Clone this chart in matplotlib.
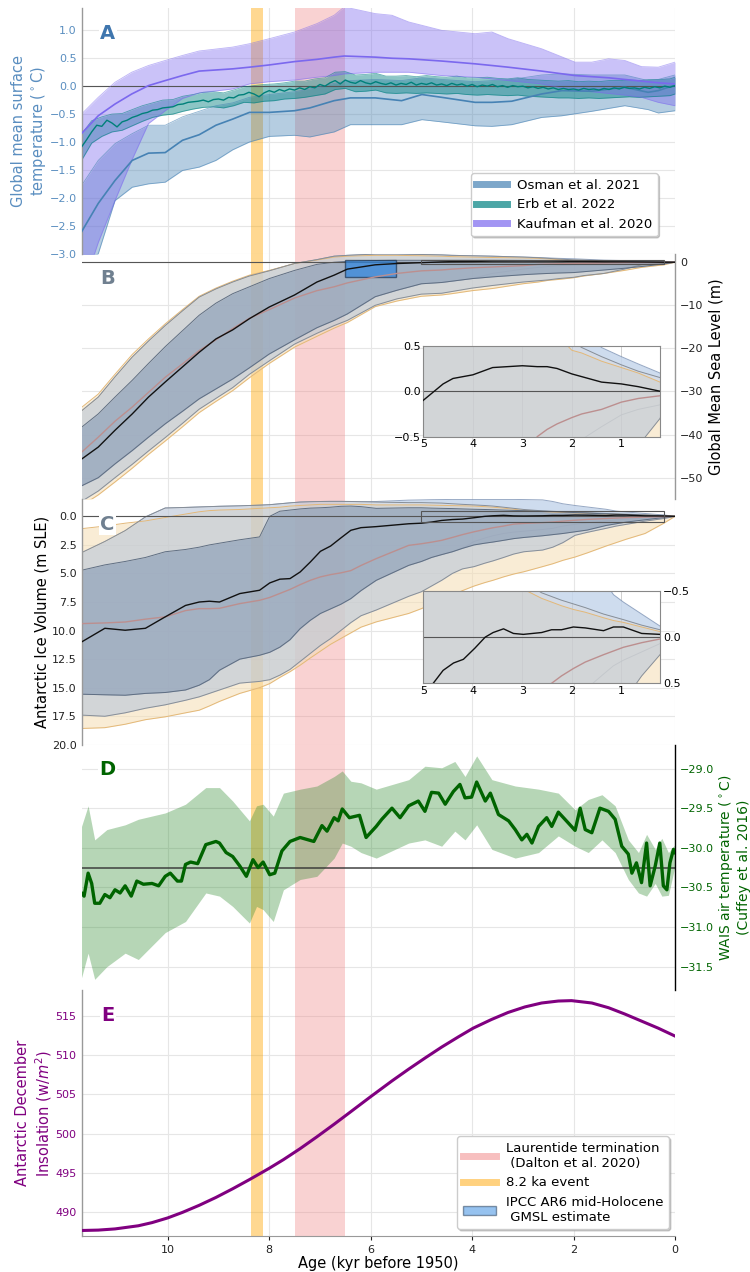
import matplotlib
matplotlib.use("Agg")
import numpy as np
import matplotlib.pyplot as plt
from matplotlib.patches import Rectangle, Patch
from matplotlib.lines import Line2D

plt.rcParams['font.family'] = ['DejaVu Sans']

# ---------------- A: global mean surface temperature ----------------
x_osman = [11.7, 11.37, 11.04, 10.7, 10.38, 10.05, 9.71, 9.38, 9.05, 8.72,
           8.39, 8.0, 7.5, 7.2, 6.72, 6.4, 5.91, 5.39, 4.99, 4.6,
           3.94, 3.61, 3.22, 2.63, 2.23, 1.64, 0.99, 0.53, 0.33, 0.0]
osman_med = [-2.61, -2.10, -1.69, -1.33, -1.20, -1.19, -0.97, -0.87, -0.70, -0.59,
             -0.47, -0.47, -0.44, -0.39, -0.26, -0.21, -0.21, -0.26, -0.15, -0.20,
             -0.29, -0.29, -0.27, -0.14, -0.08, -0.09, -0.02, -0.11, -0.08, 0.02]
osman_lo = [-3.30, -3.00, -2.05, -1.81, -1.75, -1.72, -1.51, -1.45, -1.33, -1.14,
            -1.00, -0.90, -0.88, -0.91, -0.82, -0.69, -0.69, -0.69, -0.60, -0.64,
            -0.71, -0.72, -0.69, -0.56, -0.53, -0.45, -0.35, -0.42, -0.48, -0.44]
osman_hi = [-1.78, -1.33, -1.03, -0.85, -0.70, -0.70, -0.55, -0.45, -0.35, -0.30,
            -0.20, -0.15, -0.10, -0.05, 0.05, 0.10, 0.12, 0.10, 0.15, 0.12,
            0.08, 0.10, 0.12, 0.20, 0.22, 0.20, 0.20, 0.10, 0.12, 0.20]

x_kauf = [11.7, 11.37, 11.04, 10.71, 10.38, 10.05, 9.71, 9.38, 8.72, 8.39,
          8.0, 7.5, 7.06, 6.72, 6.52, 5.91, 5.58, 5.25, 4.6, 3.94,
          3.61, 3.29, 2.63, 1.97, 1.64, 1.31, 0.99, 0.66, 0.33, 0.0]
kauf_med = [-0.85, -0.53, -0.32, -0.14, 0.01, 0.10, 0.19, 0.27, 0.31, 0.34,
            0.38, 0.44, 0.48, 0.52, 0.54, 0.52, 0.50, 0.49, 0.45, 0.40,
            0.37, 0.34, 0.27, 0.19, 0.17, 0.15, 0.12, 0.09, 0.06, 0.04]
kauf_lo = [-3.70, -2.80, -2.05, -1.33, -0.67, -0.44, -0.22, -0.12, -0.05, 0.04,
           0.08, 0.11, 0.16, 0.19, 0.22, 0.25, 0.25, 0.25, 0.19, 0.16,
           0.13, 0.10, 0.04, -0.08, -0.10, -0.13, -0.16, -0.20, -0.29, -0.35]
kauf_hi = [-0.50, -0.20, 0.07, 0.25, 0.37, 0.46, 0.55, 0.63, 0.70, 0.76,
           0.85, 0.97, 1.12, 1.27, 1.42, 1.30, 1.27, 1.15, 1.00, 0.94,
           0.97, 0.85, 0.67, 0.43, 0.43, 0.49, 0.46, 0.35, 0.34, 0.43]

x_erb = [11.7, 11.6, 11.5, 11.4, 11.3, 11.2, 11.1, 11.0, 10.9, 10.8,
         10.7, 10.6, 10.5, 10.4, 10.3, 10.2, 10.1, 10.0, 9.9, 9.8,
         9.7, 9.6, 9.5, 9.4, 9.3, 9.2, 9.1, 9.0, 8.9, 8.8,
         8.7, 8.6, 8.5, 8.4, 8.3, 8.2, 8.1, 8.0, 7.9, 7.8,
         7.7, 7.6, 7.5, 7.4, 7.3, 7.2, 7.1, 7.0, 6.9, 6.8,
         6.7, 6.6, 6.5, 6.4, 6.3, 6.2, 6.1, 6.0, 5.9, 5.8,
         5.7, 5.6, 5.5, 5.4, 5.3, 5.2, 5.1, 5.0, 4.9, 4.8,
         4.7, 4.6, 4.5, 4.4, 4.3, 4.2, 4.1, 4.0, 3.9, 3.8,
         3.7, 3.6, 3.5, 3.4, 3.3, 3.2, 3.1, 3.0, 2.9, 2.8,
         2.7, 2.6, 2.5, 2.4, 2.3, 2.2, 2.1, 2.0, 1.9, 1.8,
         1.7, 1.6, 1.5, 1.4, 1.3, 1.2, 1.1, 1.0, 0.9, 0.8,
         0.7, 0.6, 0.5, 0.4, 0.3, 0.2, 0.1, 0.0]
erb_med = [-1.09, -0.96, -0.82, -0.70, -0.72, -0.61, -0.66, -0.73, -0.64, -0.61,
           -0.56, -0.53, -0.49, -0.47, -0.43, -0.42, -0.39, -0.38, -0.37, -0.33,
           -0.32, -0.29, -0.28, -0.27, -0.25, -0.28, -0.24, -0.23, -0.25, -0.20,
           -0.21, -0.16, -0.15, -0.11, -0.14, -0.19, -0.12, -0.08, -0.11, -0.06,
           -0.09, -0.05, -0.07, -0.03, -0.06, -0.01, -0.03, 0.03, 0.00, 0.06,
           0.10, 0.04, 0.11, 0.07, 0.05, 0.10, 0.06, 0.04, 0.08, 0.05,
           0.03, 0.06, 0.02, 0.05, 0.03, 0.07, 0.02, 0.05, 0.03, 0.06,
           0.02, 0.04, 0.01, 0.05, 0.02, 0.04, 0.00, 0.03, -0.01, 0.02,
           0.00, 0.03, -0.01, 0.01, -0.02, 0.01, -0.01, 0.00, -0.03, -0.01,
           -0.04, -0.02, -0.05, -0.03, -0.06, -0.04, -0.06, -0.05, -0.07, -0.04,
           -0.06, -0.05, -0.07, -0.04, -0.06, -0.03, -0.05, -0.02, -0.04, -0.03,
           -0.05, -0.02, -0.04, -0.01, -0.03, 0.00, -0.02, 0.01]
x_erb_band = [11.7, 11.5, 11.3, 11.1, 10.9, 10.7, 10.5, 10.3, 10.1, 9.9,
              9.7, 9.5, 9.3, 9.1, 8.9, 8.7, 8.5, 8.3, 8.1, 7.9,
              7.7, 7.5, 7.3, 7.1, 6.9, 6.7, 6.5, 6.3, 6.1, 5.9,
              5.7, 5.5, 5.3, 5.1, 4.9, 4.7, 4.5, 4.3, 4.1, 3.9,
              3.7, 3.5, 3.3, 3.1, 2.9, 2.7, 2.5, 2.3, 2.1, 1.9,
              1.7, 1.5, 1.3, 1.1, 0.9, 0.7, 0.5, 0.3, 0.1, 0.0]
erb_hi = [-0.86, -0.62, -0.55, -0.50, -0.49, -0.42, -0.35, -0.30, -0.25, -0.24,
          -0.18, -0.15, -0.11, -0.10, -0.12, -0.07, -0.01, 0.01, 0.03, 0.04,
          0.06, 0.09, 0.09, 0.13, 0.15, 0.25, 0.26, 0.20, 0.21, 0.23,
          0.18, 0.18, 0.19, 0.17, 0.19, 0.17, 0.16, 0.18, 0.15, 0.15,
          0.16, 0.14, 0.13, 0.15, 0.12, 0.11, 0.10, 0.09, 0.10, 0.08,
          0.09, 0.08, 0.10, 0.10, 0.11, 0.10, 0.12, 0.12, 0.13, 0.16]
erb_lo = [-1.33, -1.02, -0.90, -0.82, -0.79, -0.71, -0.63, -0.56, -0.52, -0.50,
          -0.45, -0.41, -0.38, -0.37, -0.39, -0.35, -0.29, -0.30, -0.27, -0.26,
          -0.23, -0.22, -0.20, -0.17, -0.14, -0.06, -0.04, -0.10, -0.09, -0.07,
          -0.12, -0.13, -0.12, -0.13, -0.12, -0.13, -0.14, -0.13, -0.15, -0.16,
          -0.15, -0.16, -0.17, -0.16, -0.18, -0.19, -0.20, -0.21, -0.21, -0.22,
          -0.21, -0.22, -0.21, -0.20, -0.19, -0.20, -0.19, -0.18, -0.17, -0.14]

# ---------------- B: global mean sea level (m) ----------------
x_b = [11.7, 11.37, 11.04, 10.7, 10.38, 10.05, 9.71, 9.38, 9.05, 8.72,
       8.39, 8.0, 7.5, 7.06, 6.72, 6.46, 5.91, 5.48, 5.0, 4.6,
       4.4, 4.0, 3.6, 3.0, 2.7, 2.5, 2.3, 2.0, 1.8, 1.4,
       1.0, 0.66, 0.22, 0.0]
gmsl_main = [-45.7, -42.9, -39.0, -35.2, -31.3, -27.8, -24.3, -20.9, -17.8, -15.7,
             -13.1, -10.4, -7.6, -4.6, -3.0, -1.6, -0.6, -0.3, -0.1, 0.08,
             0.14, 0.18, 0.26, 0.28, 0.27, 0.27, 0.25, 0.19, 0.16, 0.10,
             0.08, 0.05, 0.0, 0.0]
gmsl_alt = [-44.1, -40.6, -36.9, -33.6, -30.2, -26.7, -23.6, -20.5, -18.0, -15.4,
            -13.0, -11.0, -8.3, -6.6, -5.7, -4.8, -3.4, -2.6, -2.0, -1.8,
            -1.6, -1.3, -1.1, -0.8, -0.5, -0.42, -0.36, -0.29, -0.25, -0.2,
            -0.12, -0.08, -0.05, 0.0]
gmsl_1s_hi = [-38.3, -35.2, -31.3, -27.4, -23.5, -19.6, -15.9, -12.3, -9.5, -7.3,
              -5.7, -3.8, -1.9, -0.5, 0.0, 0.2, 0.4, 0.45, 0.45, 0.45,
              0.45, 0.45, 0.45, 0.42, 0.4, 0.38, 0.36, 0.33, 0.3, 0.25,
              0.2, 0.14, 0.06, 0.0]
gmsl_1s_lo = [-51.9, -50.0, -46.8, -43.7, -40.6, -37.5, -34.6, -31.7, -29.4, -27.1,
              -24.5, -21.3, -18.0, -15.2, -13.5, -12.0, -8.0, -6.5, -5.0, -4.7,
              -4.4, -3.8, -3.4, -2.9, -2.7, -2.6, -2.5, -2.4, -2.2, -1.8,
              -1.4, -1.0, -0.4, 0.0]
gmsl_2s_hi = [-34.5, -31.3, -26.6, -22.0, -18.3, -14.7, -11.3, -8.1, -6.2, -4.6,
              -3.2, -2.0, -0.3, 0.6, 1.4, 1.6, 1.9, 1.9, 1.8, 1.7,
              1.6, 1.5, 1.4, 1.2, 1.05, 0.9, 0.75, 0.55, 0.48, 0.38,
              0.29, 0.22, 0.15, 0.0]
gmsl_2s_lo = [-55.5, -53.1, -50.0, -46.9, -43.8, -40.7, -37.4, -34.1, -31.6, -29.1,
              -26.0, -22.9, -19.0, -16.5, -14.7, -13.5, -10.0, -8.5, -7.4, -7.2,
              -6.8, -6.0, -5.4, -4.6, -4.3, -4.1, -3.8, -3.5, -3.1, -2.6,
              -1.6, -0.6, -0.3, 0.0]
gmsl_alt_1s_hi = [-34.5, -31.3, -26.6, -22.0, -18.3, -14.7, -11.3, -8.1, -6.2, -4.6,
                  -3.2, -2.0, -0.3, 0.6, 1.4, 1.6, 1.9, 1.9, 1.8, 1.7,
                  1.6, 1.5, 1.4, 1.2, 1.1, 1.0, 0.9, 0.8, 0.7, 0.48,
                  0.38, 0.3, 0.2, 0.0]
gmsl_alt_1s_lo = [-51.9, -50.0, -46.8, -43.7, -40.6, -37.5, -34.6, -31.7, -29.4, -27.1,
                  -24.5, -21.3, -18.0, -15.2, -13.5, -12.0, -8.0, -6.5, -5.0, -4.7,
                  -4.4, -3.8, -2.6, -1.6, -1.2, -1.0, -0.82, -0.62, -0.53, -0.39,
                  -0.26, -0.2, -0.15, 0.0]
gmsl_alt_2s_hi = [-33.7, -30.6, -26.0, -21.4, -17.8, -14.3, -11.0, -7.9, -6.0, -4.4,
                  -3.0, -1.9, -0.3, 0.5, 1.2, 1.4, 1.6, 1.6, 1.5, 1.4,
                  1.3, 1.2, 1.1, 1.0, 0.9, 0.75, 0.62, 0.45, 0.42, 0.33,
                  0.26, 0.2, 0.1, 0.0]
gmsl_alt_2s_lo = [-56.5, -54.0, -51.0, -47.8, -44.6, -41.5, -38.2, -34.9, -32.3, -29.8,
                  -26.8, -23.5, -19.7, -17.2, -15.3, -14.0, -10.3, -9.0, -7.9, -7.6,
                  -7.3, -6.6, -6.1, -5.0, -4.6, -4.2, -4.0, -3.6, -3.2, -2.6,
                  -1.9, -1.2, -0.6, 0.0]
ipcc_age = (6.5, 5.5)
ipcc_gmsl = (-3.5, 0.5)

# ---------------- C: Antarctic ice volume (m SLE) ----------------
x_c = [11.7, 11.24, 10.84, 10.44, 10.05, 9.65, 9.38, 9.18, 8.98, 8.58,
       8.19, 7.99, 7.79, 7.59, 7.39, 7.19, 6.99, 6.79, 6.59, 6.39,
       6.19, 5.89, 5.25, 5.0, 4.8, 4.6, 4.39, 4.19, 3.96, 3.75,
       3.59, 3.38, 3.18, 2.98, 2.61, 2.41, 2.21, 1.97, 1.73, 1.36,
       1.16, 0.96, 0.59, 0.22, 0.0]
ice_main = [11.0, 9.8, 9.97, 9.8, 8.8, 7.8, 7.5, 7.43, 7.5, 6.76,
            6.47, 5.83, 5.5, 5.45, 4.87, 4.0, 3.06, 2.6, 1.9, 1.22,
            0.99, 0.9, 0.65, 0.6, 0.5, 0.36, 0.28, 0.24, 0.12, 0.0,
            -0.05, -0.09, -0.04, -0.03, -0.05, -0.08, -0.08, -0.11, -0.1, -0.07,
            -0.11, -0.11, -0.04, -0.03, 0.0]
ice_alt = [9.39, 9.33, 9.25, 9.0, 8.8, 8.25, 8.08, 8.08, 8.05, 7.64,
           7.35, 7.1, 6.75, 6.4, 5.98, 5.6, 5.3, 5.1, 4.95, 4.75,
           4.3, 3.7, 2.54, 2.4, 2.26, 2.1, 1.85, 1.6, 1.35, 1.15,
           1.0, 0.85, 0.68, 0.62, 0.55, 0.5, 0.42, 0.34, 0.27, 0.19,
           0.15, 0.11, 0.06, 0.02, 0.0]
ice_1s_hi = [4.72, 4.25, 3.95, 3.6, 3.1, 2.9, 2.7, 2.5, 2.35, 2.05,
             1.8, 0.0, -0.45, -0.55, -0.65, -0.72, -0.75, -0.8, -0.88, -0.9,
             -0.85, -0.7, -0.75, -0.75, -0.72, -0.7, -0.68, -0.65, -0.62, -0.6,
             -0.58, -0.55, -0.52, -0.5, -0.45, -0.42, -0.38, -0.33, -0.28, -0.22,
             -0.18, -0.15, -0.1, -0.04, 0.0]
ice_1s_lo = [15.57, 15.62, 15.66, 15.5, 15.42, 15.2, 14.78, 14.3, 13.47, 12.5,
             12.16, 11.9, 11.45, 10.8, 9.83, 9.1, 8.5, 8.1, 7.7, 7.2,
             6.5, 5.6, 4.29, 3.95, 3.6, 3.35, 3.1, 2.8, 2.5, 2.35,
             2.25, 2.1, 1.95, 1.85, 1.7, 1.6, 1.5, 1.35, 1.2, 0.8,
             0.65, 0.5, 0.3, 0.1, 0.0]
ice_2s_hi = [3.18, 2.2, 1.25, 0.05, -0.73, -0.78, -0.82, -0.85, -0.88, -0.92,
             -0.98, -1.02, -1.1, -1.18, -1.25, -1.28, -1.3, -1.31, -1.31, -1.3,
             -1.28, -1.25, -1.2, -1.2, -1.18, -1.16, -1.1, -1.05, -1.0, -0.95,
             -0.9, -0.8, -0.7, -0.6, -0.48, -0.44, -0.4, -0.36, -0.32, -0.25,
             -0.22, -0.19, -0.13, -0.08, 0.0]
ice_2s_lo = [17.4, 17.5, 17.2, 16.8, 16.5, 16.1, 15.8, 15.5, 15.2, 14.6,
             14.45, 14.3, 13.9, 13.4, 12.7, 12.0, 11.3, 10.7, 10.0, 9.3,
             8.7, 8.2, 7.0, 6.6, 6.1, 5.6, 5.0, 4.6, 4.4, 4.1,
             3.9, 3.6, 3.3, 3.1, 2.95, 2.7, 2.3, 1.66, 1.4, 1.05,
             0.85, 0.7, 0.42, 0.19, 0.0]
ice_alt_1s_hi = [3.18, 2.2, 1.25, 0.05, -0.73, -0.78, -0.82, -0.85, -0.88, -0.92,
                 -0.98, -1.02, -1.1, -1.18, -1.25, -1.28, -1.3, -1.31, -1.31, -1.3,
                 -1.28, -1.3, -1.42, -1.44, -1.46, -1.47, -1.48, -1.48, -1.48, -1.48,
                 -1.48, -1.48, -1.48, -1.47, -1.44, -1.3, -1.1, -0.95, -0.82, -0.62,
                 -0.46, -0.38, -0.25, -0.12, 0.0]
ice_alt_1s_lo = [15.57, 15.62, 15.66, 15.5, 15.42, 15.2, 14.78, 14.3, 13.47, 12.5,
                 12.16, 11.9, 11.45, 10.8, 9.83, 9.1, 8.5, 8.1, 7.7, 7.2,
                 6.5, 5.6, 4.29, 3.95, 3.6, 3.35, 3.1, 2.8, 2.2, 1.9,
                 1.7, 1.5, 1.38, 1.3, 1.15, 1.05, 0.85, 0.7, 0.57, 0.4,
                 0.31, 0.25, 0.16, 0.07, 0.0]
ice_alt_2s_hi = [1.08, 0.85, 0.6, 0.4, 0.1, -0.2, -0.4, -0.5, -0.55, -0.6,
                 -0.7, -0.75, -0.8, -0.9, -0.95, -1.0, -1.05, -1.05, -1.05, -1.05,
                 -1.05, -1.0, -1.0, -1.0, -0.98, -0.96, -0.94, -0.92, -0.9, -0.85,
                 -0.8, -0.72, -0.62, -0.52, -0.42, -0.38, -0.34, -0.3, -0.27, -0.21,
                 -0.18, -0.16, -0.11, -0.06, 0.0]
ice_alt_2s_lo = [18.57, 18.5, 18.2, 17.8, 17.55, 17.2, 16.97, 16.6, 16.2, 15.5,
                 15.0, 14.64, 14.1, 13.6, 13.03, 12.4, 11.8, 11.2, 10.7, 10.2,
                 9.7, 9.24, 8.5, 8.08, 7.7, 7.3, 6.9, 6.5, 6.1, 5.8,
                 5.6, 5.3, 5.05, 4.85, 4.4, 4.15, 3.85, 3.56, 3.2, 2.6,
                 2.3, 2.0, 1.5, 0.6, 0.0]

# ---------------- D: WAIS air temperature (Cuffey et al. 2016) ----------------
x_wais = [11.7, 11.65, 11.57, 11.5, 11.44, 11.34, 11.24, 11.14, 11.04, 10.94,
          10.84, 10.72, 10.61, 10.48, 10.31, 10.18, 10.05, 9.95, 9.81, 9.73,
          9.65, 9.55, 9.41, 9.25, 9.05, 8.98, 8.85, 8.72, 8.58, 8.45,
          8.32, 8.22, 8.12, 7.99, 7.89, 7.75, 7.59, 7.39, 7.12, 6.96,
          6.86, 6.72, 6.64, 6.56, 6.42, 6.22, 6.09, 5.89, 5.78, 5.58,
          5.42, 5.25, 5.06, 4.93, 4.8, 4.66, 4.53, 4.37, 4.24, 4.14,
          4.01, 3.91, 3.74, 3.64, 3.48, 3.28, 3.15, 3.02, 2.92, 2.82,
          2.69, 2.53, 2.43, 2.3, 2.17, 1.97, 1.87, 1.77, 1.64, 1.48,
          1.31, 1.18, 1.05, 0.92, 0.85, 0.76, 0.66, 0.56, 0.49, 0.39,
          0.3, 0.23, 0.16, 0.1, 0.03, 0.0]
wais_t = [-30.57, -30.61, -30.32, -30.45, -30.70, -30.70, -30.59, -30.63, -30.53, -30.57,
          -30.48, -30.61, -30.42, -30.46, -30.45, -30.48, -30.36, -30.32, -30.42, -30.42,
          -30.21, -30.18, -30.20, -29.96, -29.92, -29.94, -30.06, -30.11, -30.23, -30.36,
          -30.15, -30.25, -30.18, -30.34, -30.32, -30.04, -29.92, -29.87, -29.92, -29.72,
          -29.79, -29.62, -29.66, -29.51, -29.62, -29.59, -29.87, -29.73, -29.64, -29.50,
          -29.62, -29.47, -29.41, -29.54, -29.30, -29.31, -29.45, -29.29, -29.20, -29.37,
          -29.36, -29.17, -29.41, -29.31, -29.58, -29.66, -29.77, -29.90, -29.83, -29.94,
          -29.73, -29.62, -29.73, -29.55, -29.64, -29.78, -29.50, -29.77, -29.81, -29.50,
          -29.54, -29.64, -29.98, -30.08, -30.32, -30.19, -30.44, -29.94, -30.48, -30.23,
          -29.94, -30.48, -30.53, -30.19, -30.02, -30.06]
x_wais_band = [11.7, 11.57, 11.44, 11.2, 10.84, 10.58, 10.05, 9.65, 9.25, 8.98,
               8.72, 8.39, 8.25, 8.12, 7.92, 7.72, 7.39, 7.06, 6.72, 6.56,
               6.39, 6.19, 5.89, 5.25, 4.93, 4.6, 4.34, 4.14, 3.91, 3.61,
               3.15, 2.69, 2.3, 1.97, 1.71, 1.44, 1.18, 0.92, 0.72, 0.56,
               0.39, 0.26, 0.13, 0.0]
wais_hi = [-29.73, -29.47, -29.90, -29.77, -29.71, -29.64, -29.56, -29.45, -29.24, -29.24,
           -29.41, -29.66, -29.47, -29.45, -29.60, -29.31, -29.26, -29.22, -29.10, -29.03,
           -29.16, -29.18, -29.26, -29.14, -28.97, -28.99, -28.91, -29.10, -28.84, -29.14,
           -29.22, -29.26, -29.31, -29.52, -29.39, -29.33, -29.47, -29.90, -30.06, -29.83,
           -30.02, -29.88, -30.06, -29.96]
wais_lo = [-31.64, -31.33, -31.66, -31.50, -31.33, -31.41, -31.07, -30.93, -30.57, -30.61,
           -30.74, -30.95, -30.74, -30.78, -30.93, -30.53, -30.40, -30.36, -30.13, -29.94,
           -29.98, -30.06, -30.13, -29.94, -29.90, -29.98, -29.79, -29.90, -29.71, -30.02,
           -30.13, -30.06, -29.85, -29.98, -30.06, -29.90, -30.06, -30.40, -30.57, -30.61,
           -30.45, -30.61, -30.60, -30.23]
wais_ref = -30.25

# ---------------- E: Antarctic December insolation ----------------
x_ins = [11.7, 11.37, 11.04, 10.58, 10.31, 10.0, 9.71, 9.38, 9.05, 8.72,
         8.38, 8.0, 7.72, 7.39, 7.06, 6.72, 6.39, 6.0, 5.58, 5.25,
         4.93, 4.6, 4.27, 3.98, 3.62, 3.29, 2.96, 2.63, 2.3, 2.04,
         1.64, 1.31, 0.99, 0.66, 0.33, 0.0]
insolation = [487.7, 487.75, 487.9, 488.3, 488.7, 489.3, 490.0, 490.9, 491.9, 493.0,
              494.2, 495.6, 496.7, 498.1, 499.6, 501.2, 502.8, 504.7, 506.7, 508.2,
              509.6, 511.0, 512.3, 513.4, 514.5, 515.4, 516.1, 516.6, 516.85, 516.9,
              516.6, 516.0, 515.2, 514.3, 513.4, 512.4]

# ---------------- events ----------------
laurentide = (7.5, 6.5)
event_82 = (8.35, 8.12)

# ---------------- styling ----------------
C_OSMAN, C_ERB, C_KAUF = '#4682b4', '#008080', '#7b68ee'
C_WHEAT, C_LBLUE, C_GRAY, C_SLATE = '#f5deb3', '#c6d6ec', '#bec9d9', '#8599b5'
C_PINK, C_ORANGE, C_IPCC = 'lightcoral', 'orange', '#2f86e0'
A_COL = '#5a8ec0'
GRID = '#e6e6e6'

fig = plt.figure(figsize=(7.5, 12.72), dpi=100)
gs = fig.add_gridspec(5, 1, left=0.1087, right=0.9, top=0.9937, bottom=0.0283, hspace=0)
axA = fig.add_subplot(gs[0])
axB = fig.add_subplot(gs[1], sharex=axA)
axC = fig.add_subplot(gs[2], sharex=axA)
axD = fig.add_subplot(gs[3], sharex=axA)
axE = fig.add_subplot(gs[4], sharex=axA)
axes = [axA, axB, axC, axD, axE]


def style(ax, side, spine_color, tick_color='#222222', bottom=False):
    ax.set_facecolor('none')
    for s in ax.spines.values():
        s.set_visible(False)
    ax.spines[side].set_visible(True)
    ax.spines[side].set_color(spine_color)
    ax.spines[side].set_linewidth(1.0)
    ax.yaxis.set_ticks_position(side)
    ax.yaxis.set_label_position(side)
    ax.grid(True, color=GRID, lw=0.8)
    ax.set_axisbelow(True)
    ax.tick_params(axis='y', labelsize=8, length=0, colors=tick_color,
                   labelcolor=tick_color)
    if bottom:
        ax.spines['bottom'].set_visible(True)
        ax.spines['bottom'].set_color(spine_color)
        ax.tick_params(axis='x', labelsize=8, length=3, colors='#222222')
    else:
        ax.tick_params(axis='x', bottom=False, labelbottom=False, length=0)


def band(ax, x, lo, hi, fc, alpha, ec, elw=0.7, ealpha=1.0):
    ax.fill_between(x, lo, hi, color=fc, alpha=alpha, lw=0, zorder=1)
    ax.plot(x, lo, color=ec, lw=elw, alpha=ealpha, zorder=1.1)
    ax.plot(x, hi, color=ec, lw=elw, alpha=ealpha, zorder=1.1)


def outer_strip(ax, x, inner, outer, fc, ec, sign):
    # only the part of the second-run range lying outside the main 2-sigma envelope
    xi, yi, yo = np.asarray(x), np.asarray(inner), np.asarray(outer)
    ax.fill_between(xi, yi, yo, where=sign * (yo - yi) > 0, interpolate=True,
                    color=fc, alpha=0.85, lw=0, zorder=0.9)
    ax.plot(xi, yo, color=ec, lw=0.7, alpha=0.8, zorder=0.95)


for ax in axes:
    ax.axvspan(*laurentide, color=C_PINK, alpha=0.35, lw=0, zorder=0.6)
    ax.axvspan(*event_82, color=C_ORANGE, alpha=0.43, lw=0, zorder=0.6)

# ---- A ----
axA.fill_between(x_osman, osman_lo, osman_hi, color=C_OSMAN, alpha=0.4, lw=0)
axA.fill_between(x_erb_band, erb_lo, erb_hi, color=C_ERB, alpha=0.45, lw=0)
axA.plot(x_erb_band, erb_lo, color=C_ERB, lw=0.6, alpha=0.6)
axA.plot(x_erb_band, erb_hi, color=C_ERB, lw=0.6, alpha=0.6)
axA.fill_between(x_kauf, kauf_lo, kauf_hi, color=C_KAUF, alpha=0.4, lw=0)
axA.plot(x_osman, osman_lo, color=C_OSMAN, lw=0.6, alpha=0.6)
axA.plot(x_osman, osman_hi, color=C_OSMAN, lw=0.6, alpha=0.6)
axA.plot(x_kauf, kauf_lo, color=C_KAUF, lw=0.6, alpha=0.5)
axA.plot(x_kauf, kauf_hi, color=C_KAUF, lw=0.6, alpha=0.5)
axA.axhline(0, color='#555555', lw=0.8, zorder=1.5)
axA.plot(x_osman, osman_med, color=C_OSMAN, lw=1.2, zorder=3)
axA.plot(x_erb, erb_med, color='#00807a', lw=1.0, zorder=3)
axA.plot(x_kauf, kauf_med, color=C_KAUF, lw=1.2, zorder=3)
axA.set_ylim(-3.0, 1.4)
axA.set_yticks([-3.0, -2.5, -2.0, -1.5, -1.0, -0.5, 0.0, 0.5, 1.0])
style(axA, 'left', '#999999', tick_color=A_COL)
axA.set_ylabel('Global mean surface\ntemperature ($^\\circ$C)', color=A_COL,
               fontsize=10.5, labelpad=1)
legA = axA.legend(
    [Line2D([], [], color=C_OSMAN, alpha=0.7, lw=5),
     Line2D([], [], color=C_ERB, alpha=0.7, lw=5),
     Line2D([], [], color=C_KAUF, alpha=0.7, lw=5)],
    ['Osman et al. 2021', 'Erb et al. 2022', 'Kaufman et al. 2020'],
    loc='lower right', bbox_to_anchor=(0.971, 0.071), borderaxespad=0,
    fontsize=9.5, handlelength=2.3, framealpha=1, edgecolor='#cccccc',
    shadow={'color': '0.6', 'alpha': 0.5, 'ox': 1.2, 'oy': -1.2})
legA.set_zorder(10)


def gmsl_layers(ax, show_inner=True):
    band(ax, x_b, gmsl_alt_2s_lo, gmsl_alt_2s_hi, C_WHEAT, 0.55, '#e3b878')
    outer_strip(ax, x_b, gmsl_2s_hi, gmsl_alt_1s_hi, C_LBLUE, '#7d93b5', +1)
    ax.plot(x_b, gmsl_alt_1s_lo, color='#8c96a4', lw=0.7, alpha=0.8, zorder=0.95)
    band(ax, x_b, gmsl_2s_lo, gmsl_2s_hi, C_GRAY, 0.65, '#878e97')
    if show_inner:
        band(ax, x_b, gmsl_1s_lo, gmsl_1s_hi, C_SLATE, 0.6, '#5f6e82')
    ax.axhline(0, color='#555555', lw=0.8, zorder=1.5)
    ax.plot(x_b, gmsl_alt, color='rosybrown', lw=1.0, zorder=3)
    ax.plot(x_b, gmsl_main, color='#111111', lw=1.0, zorder=3)


# ---- B ----
gmsl_layers(axB)
axB.add_patch(Rectangle((ipcc_age[1], ipcc_gmsl[0]), ipcc_age[0] - ipcc_age[1],
                        ipcc_gmsl[1] - ipcc_gmsl[0], facecolor=C_IPCC, alpha=0.7,
                        edgecolor='#1f3550', lw=1.0, zorder=2.5))
axB.add_patch(Rectangle((0.22, -0.5), 5.0 - 0.22, 1.0, facecolor='none',
                        edgecolor='#555555', lw=0.8, zorder=4))
axB.set_ylim(-55, 2)
axB.set_yticks([0, -10, -20, -30, -40, -50])
style(axB, 'right', '#999999')
axB.set_ylabel('Global Mean Sea Level (m)', fontsize=10.5, labelpad=4)


def ice_layers(ax, show_inner=True):
    band(ax, x_c, ice_alt_2s_lo, ice_alt_2s_hi, C_WHEAT, 0.55, '#e3b878')
    outer_strip(ax, x_c, ice_2s_hi, ice_alt_1s_hi, C_LBLUE, '#7d93b5', -1)
    ax.plot(x_c, ice_alt_1s_lo, color='#8c96a4', lw=0.7, alpha=0.8, zorder=0.95)
    band(ax, x_c, ice_2s_lo, ice_2s_hi, C_GRAY, 0.65, '#878e97')
    if show_inner:
        band(ax, x_c, ice_1s_lo, ice_1s_hi, C_SLATE, 0.6, '#5f6e82')
    ax.axhline(0, color='#555555', lw=0.8, zorder=1.5)
    ax.plot(x_c, ice_alt, color='rosybrown', lw=1.0, zorder=3)
    ax.plot(x_c, ice_main, color='#111111', lw=1.0, zorder=3)


# ---- C ----
ice_layers(axC)
axC.add_patch(Rectangle((0.22, -0.5), 5.0 - 0.22, 1.0, facecolor='none',
                        edgecolor='#555555', lw=0.8, zorder=4))
axC.set_ylim(20, -1.5)
axC.set_yticks([0.0, 2.5, 5.0, 7.5, 10.0, 12.5, 15.0, 17.5, 20.0])
axC.set_yticklabels(['0.0', '2.5', '5.0', '7.5', '10.0', '12.5', '15.0', '17.5', '20.0'])
style(axC, 'left', '#999999')
axC.set_ylabel('Antarctic Ice Volume (m SLE)', fontsize=10.5, labelpad=2)

# ---- D ----
axD.fill_between(x_wais_band, wais_lo, wais_hi, color='#2e8b2e', alpha=0.35, lw=0, zorder=1)
axD.axhline(wais_ref, color='#333333', lw=1.2, alpha=0.85, zorder=1.5)
axD.plot(x_wais, wais_t, color='#006400', lw=2.4, zorder=3)
axD.set_ylim(-31.8, -28.7)
axD.set_yticks([-29.0, -29.5, -30.0, -30.5, -31.0, -31.5])
style(axD, 'right', 'black', tick_color='#006400')
axD.set_ylabel('WAIS air temperature ($^\\circ$C)\n(Cuffey et al. 2016)',
               color='#006400', fontsize=10, labelpad=2)

# ---- E ----
axE.plot(x_ins, insolation, color='purple', lw=2.2, zorder=3)
axE.set_ylim(487.0, 518.2)
axE.set_yticks([490, 495, 500, 505, 510, 515])
style(axE, 'left', '#999999', tick_color='purple', bottom=True)
axE.set_ylabel('Antarctic December\nInsolation (w/$m^2$)', color='purple',
               fontsize=10.5, labelpad=1)
axE.set_xlim(11.7, 0)
axE.set_xticks([10, 8, 6, 4, 2, 0])
axE.set_xlabel('Age (kyr before 1950)', fontsize=10.5, labelpad=1)
legE = axE.legend(
    [Line2D([], [], color=C_PINK, alpha=0.5, lw=5),
     Line2D([], [], color=C_ORANGE, alpha=0.5, lw=5),
     Patch(facecolor=C_IPCC, alpha=0.5, edgecolor='#1f3550')],
    ['Laurentide termination\n (Dalton et al. 2020)', '8.2 ka event',
     'IPCC AR6 mid-Holocene\n GMSL estimate'],
    loc='lower right', bbox_to_anchor=(0.99, 0.028), borderaxespad=0,
    fontsize=9.5, handlelength=2.5, framealpha=1, edgecolor='#cccccc',
    shadow={'color': '0.6', 'alpha': 0.5, 'ox': 1.2, 'oy': -1.2})
legE.set_zorder(10)

# ---- panel letters ----
letters = [('A', '#3f76ae'), ('B', '#708090'), ('C', '#708090'),
           ('D', '#006400'), ('E', 'purple')]
for ax, (lab, col) in zip(axes, letters):
    ax.text(0.044, 0.898, lab, transform=ax.transAxes, ha='center', va='center',
            fontsize=14, fontweight='bold', color=col, zorder=12,
            bbox=dict(facecolor='white', edgecolor='none', pad=1.0))


# ---- late-Holocene insets ----
def inset_style(ax, side):
    ax.set_facecolor('white')
    for s in ax.spines.values():
        s.set_color('#888888')
        s.set_linewidth(0.8)
    ax.set_xlim(5, 0.22)
    ax.set_xticks([5, 4, 3, 2, 1])
    ax.grid(True, axis='x', color='#c8c8c8', lw=0.6)
    ax.set_axisbelow(True)
    ax.yaxis.set_ticks_position(side)
    ax.tick_params(labelsize=8, length=0, pad=2)


axBi = fig.add_axes([0.5644, 0.6567, 0.3156, 0.0715])
gmsl_layers(axBi, show_inner=False)
axBi.set_ylim(-0.5, 0.5)
axBi.set_yticks([-0.5, 0.0, 0.5])
inset_style(axBi, 'left')

axCi = fig.add_axes([0.5644, 0.4628, 0.3156, 0.0726])
ice_layers(axCi, show_inner=False)
axCi.set_ylim(0.5, -0.5)
axCi.set_yticks([-0.5, 0.0, 0.5])
inset_style(axCi, 'right')

fig.savefig('out.png', dpi=100)
